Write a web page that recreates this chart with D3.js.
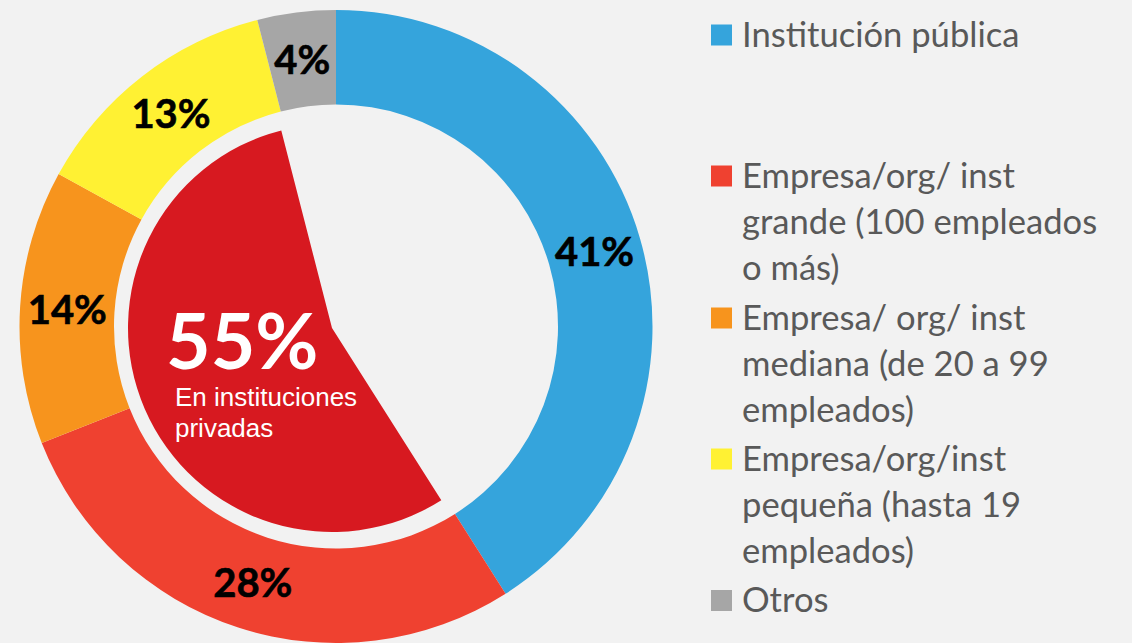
<!DOCTYPE html>
<html>
<head>
<meta charset="utf-8">
<script src="https://cdn.jsdelivr.net/npm/d3@7"></script>
<style>
  html, body { margin: 0; padding: 0; background: #f2f2f2; }
  svg { display: block; }
</style>
</head>
<body>
<svg></svg>
<script>
var categories = [
  ["Institución pública"],
  ["Empresa/org/ inst", "grande (100 empleados", "o más)"],
  ["Empresa/ org/ inst", "mediana (de 20 a 99", "empleados)"],
  ["Empresa/org/inst", "pequeña (hasta 19", "empleados)"],
  ["Otros"]
];
var values = [41, 28, 14, 13, 4];
var colors = ["#35a4dc", "#ef4130", "#f7941d", "#fff133", "#a6a6a6"];
var privateTotal = 55;
var centerLabel = "55%";
var centerText = ["En instituciones", "privadas"];

var svgWidth = 1132;
var svgHeight = 643;

var svg = d3.select('svg')
    .attr('width', svgWidth)
    .attr('height', svgHeight);

svg.append('rect')
    .attr('width', svgWidth)
    .attr('height', svgHeight)
    .attr('fill', '#f2f2f2');

var pie = d3.pie().sort(null).value(function(d) { return d; });
var arcs = pie(values);

var ring = d3.arc().innerRadius(222).outerRadius(316.5);

var donut = svg.append('g')
    .attr('transform', 'translate(336,326.5)');

donut.selectAll('path')
    .data(arcs)
    .enter()
    .append('path')
    .attr('d', ring)
    .attr('fill', function(d, i) { return colors[i]; });

donut.selectAll('text')
    .data(arcs)
    .enter()
    .append('text')
    .attr('transform', function(d) { return 'translate(' + ring.centroid(d) + ')'; })
    .attr('text-anchor', 'middle')
    .attr('dy', '0.36em')
    .style('font-family', 'Lato, sans-serif')
    .style('font-weight', 'bold')
    .style('font-size', '40px')
    .style('stroke', '#000')
    .style('stroke-width', '0.6px')
    .attr('fill', '#000')
    .text(function(d) { return d.value + '%'; });

// inner wedge: private institutions (spans the three company slices)
var start = arcs[1].startAngle;
var end = start + privateTotal / d3.sum(values) * 2 * Math.PI;
var inner = d3.arc().innerRadius(0).outerRadius(204);

var core = svg.append('g')
    .attr('transform', 'translate(332,328)');

core.append('path')
    .attr('d', inner({ startAngle: start, endAngle: end }))
    .attr('fill', '#d71920');

svg.append('text')
    .attr('x', 166)
    .attr('y', 369)
    .style('font-family', 'Lato, sans-serif')
    .style('font-weight', 'bold')
    .style('font-size', '77px')
    .attr('fill', '#fff')
    .text(centerLabel);

svg.append('text')
    .selectAll('tspan')
    .data(centerText)
    .enter()
    .append('tspan')
    .attr('x', 175)
    .attr('y', function(d, i) { return 406 + i * 31; })
    .style('font-family', '"Liberation Sans", Arial, sans-serif')
    .style('font-size', '26px')
    .attr('fill', '#fff')
    .text(function(d) { return d; });

// legend
var legendY = [35, 176, 318, 459, 600.5];
var legend = svg.append('g');

var item = legend.selectAll('g')
    .data(categories)
    .enter()
    .append('g')
    .attr('transform', function(d, i) { return 'translate(711,' + legendY[i] + ')'; });

item.append('rect')
    .attr('x', 0)
    .attr('y', -10.5)
    .attr('width', 21)
    .attr('height', 21)
    .attr('fill', function(d, i) { return colors[i]; });

item.append('text')
    .style('font-family', 'Lato, sans-serif')
    .style('font-size', '34.6px')
    .attr('fill', '#595959')
    .selectAll('tspan')
    .data(function(d) { return d; })
    .enter()
    .append('tspan')
    .attr('x', 31)
    .attr('y', function(d, i) { return 11.5 + i * 46; })
    .text(function(d) { return d; });
</script>
</body>
</html>
